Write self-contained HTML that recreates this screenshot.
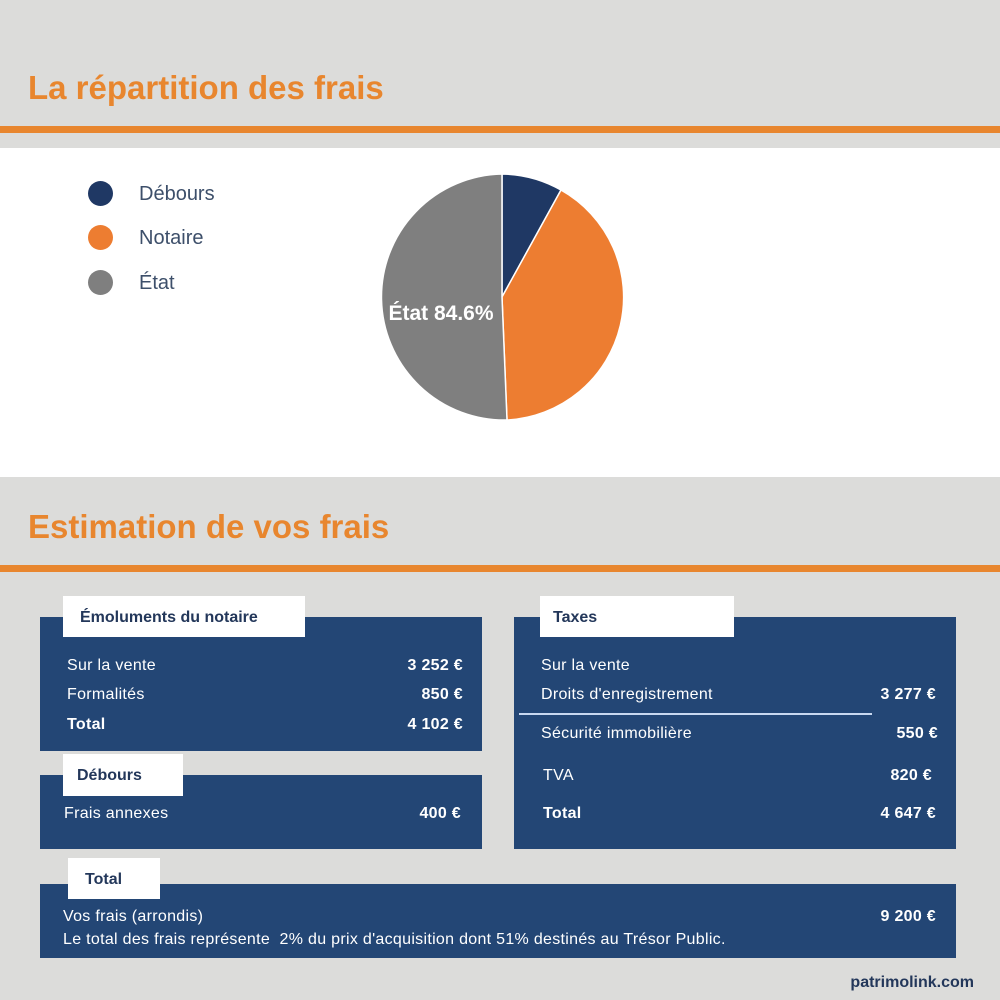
<!DOCTYPE html>
<html><head><meta charset="utf-8"><style>
body{margin:0;width:1000px;height:1000px;position:relative;background:#dcdcda;font-family:"Liberation Sans",sans-serif;overflow:hidden}
.a{position:absolute;white-space:nowrap}
.t{font-size:16px;line-height:20px;color:#fff;letter-spacing:0.3px}
.b{font-weight:bold}
.r{text-align:right}
.blue{position:absolute;background:#234675}
.lab{position:absolute;background:#fff;color:#23375a;font-weight:bold;font-size:16px;line-height:20px}
h1{position:absolute;margin:0;font-size:33px;color:#e8862e;font-weight:bold;left:28px}
.line{position:absolute;left:0;width:1000px;height:7px;background:#e8862e}
.lg{font-size:20px;color:#3d4f6a;line-height:24px}
.dot{position:absolute;width:25px;height:25px;border-radius:50%}
</style></head><body>
<h1 style="top:69px">La répartition des frais</h1>
<div class="line" style="top:126px"></div>
<div style="position:absolute;left:0;top:148px;width:1000px;height:329px;background:#fff"></div>
<div class="dot" style="left:88px;top:181px;background:#1f3864"></div>
<div class="dot" style="left:88px;top:225px;background:#ed7d31"></div>
<div class="dot" style="left:88px;top:270px;background:#7f7f7f"></div>
<div class="a lg" style="left:139px;top:182px">Débours</div>
<div class="a lg" style="left:139px;top:226px">Notaire</div>
<div class="a lg" style="left:139px;top:271px">État</div>
<svg class="a" style="left:0;top:0" width="1000" height="480">
<path d="M502,297 L502,174 A123,123 0 0 1 561,190 Z" fill="#1f3864" stroke="#fff" stroke-width="1.5"/>
<path d="M502,297 L561,190 A123,123 0 0 1 507,420 Z" fill="#ed7d31" stroke="#fff" stroke-width="1.5"/>
<path d="M502,297 L507,420 A123,123 0 0 1 502,174 Z" fill="#7f7f7f" stroke="#fff" stroke-width="1.5"/>
<text x="441" y="320" font-family="Liberation Sans, sans-serif" font-weight="bold" font-size="21" fill="#fff" text-anchor="middle">État 84.6%</text>
</svg>
<h1 style="top:508px">Estimation de vos frais</h1>
<div class="line" style="top:565px"></div>

<div class="blue" style="left:40px;top:617px;width:442px;height:134px"></div>
<div class="lab" style="left:63px;top:596px;width:242px;height:41px"><span class="a" style="left:17px;top:12px">Émoluments du notaire</span></div>
<div class="a t" style="left:67px;top:656px">Sur la vente</div>
<div class="a t" style="left:67px;top:685px">Formalités</div>
<div class="a t b" style="left:67px;top:715px">Total</div>
<div class="a t b r" style="right:537px;top:656px">3 252 €</div>
<div class="a t b r" style="right:537px;top:685px">850 €</div>
<div class="a t b r" style="right:537px;top:715px">4 102 €</div>

<div class="blue" style="left:40px;top:775px;width:442px;height:74px"></div>
<div class="lab" style="left:63px;top:754px;width:120px;height:42px"><span class="a" style="left:14px;top:12px">Débours</span></div>
<div class="a t" style="left:64px;top:804px">Frais annexes</div>
<div class="a t b r" style="right:539px;top:804px">400 €</div>

<div class="blue" style="left:514px;top:617px;width:442px;height:232px"></div>
<div class="lab" style="left:540px;top:596px;width:194px;height:41px"><span class="a" style="left:13px;top:12px">Taxes</span></div>
<div class="a t" style="left:541px;top:656px">Sur la vente</div>
<div class="a t" style="left:541px;top:685px">Droits d'enregistrement</div>
<div style="position:absolute;left:519px;top:713px;width:353px;height:2px;background:#c8d8f0"></div>
<div class="a t" style="left:541px;top:724px">Sécurité immobilière</div>
<div class="a t" style="left:543px;top:766px">TVA</div>
<div class="a t b" style="left:543px;top:804px">Total</div>
<div class="a t b r" style="right:64px;top:685px">3 277 €</div>
<div class="a t b r" style="right:62px;top:724px">550 €</div>
<div class="a t b r" style="right:68px;top:766px">820 €</div>
<div class="a t b r" style="right:64px;top:804px">4 647 €</div>

<div class="blue" style="left:40px;top:884px;width:916px;height:74px"></div>
<div class="lab" style="left:68px;top:858px;width:92px;height:41px"><span class="a" style="left:17px;top:12px">Total</span></div>
<div class="a t" style="left:63px;top:907px">Vos frais (arrondis)</div>
<div class="a t b r" style="right:64px;top:907px">9 200 €</div>
<div class="a t" style="left:63px;top:930px">Le total des frais représente&nbsp; 2% du prix d'acquisition dont 51% destinés au Trésor Public.</div>
<div class="a b" style="right:26px;top:973px;font-size:16px;line-height:20px;color:#23375a">patrimolink.com</div>
</body></html>
